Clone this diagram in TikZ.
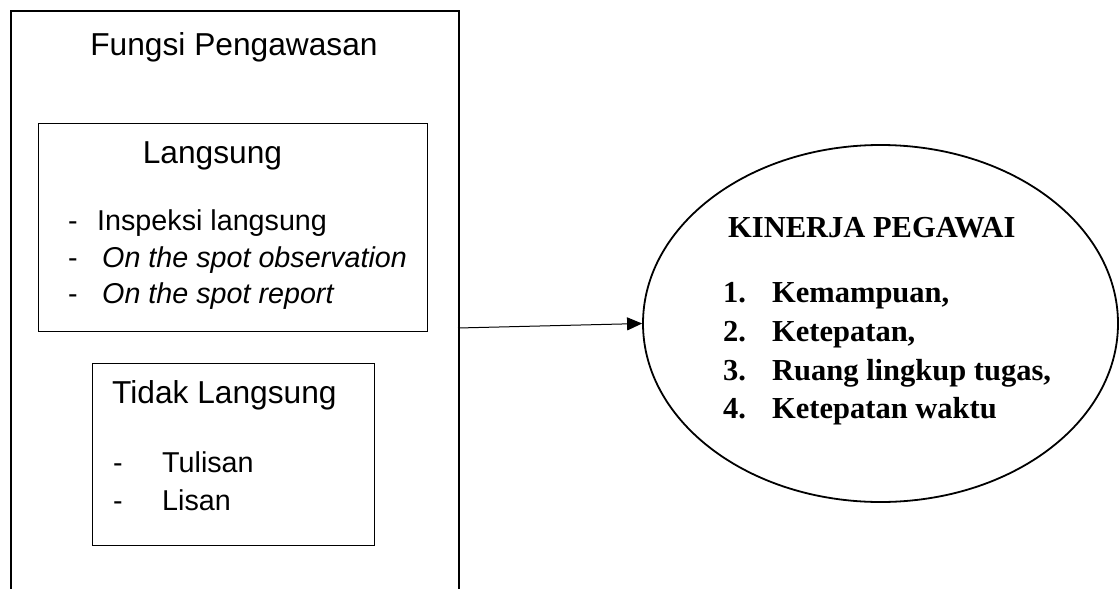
\documentclass[tikz,border=0pt]{standalone}
\usepackage{fontspec}
\setmainfont{Liberation Serif}
\newfontfamily\arial{Liberation Sans}
\usetikzlibrary{shapes.geometric,arrows.meta}
\tikzset{
  lbl/.style={inner sep=0pt, anchor=base west},
  head/.style={inner sep=0pt, anchor=base, font=\arial\fontsize{31.7}{38}\selectfont},
  item/.style={lbl, font=\arial\fontsize{28.7}{36}\selectfont},
  itemit/.style={lbl, font=\arial\itshape\fontsize{28.7}{36}\selectfont},
  kin/.style={lbl, font=\bfseries\fontsize{30.5}{38}\selectfont},
  box/.style={draw, line width=1pt, anchor=north west, inner sep=0pt},
}
\begin{document}
\begin{tikzpicture}[x=1pt,y=-1pt]
\useasboundingbox (0,0) rectangle (1120,589);
\clip (0,0) rectangle (1120,589);
% outer box
\node[draw, line width=2pt, anchor=north west, inner sep=0pt, minimum width=448pt, minimum height=640pt] (outer) at (10,10) {};
\node[head] (tfungsi) at (234,55) {Fungsi Pengawasan};
% Langsung box
\node[box, minimum width=389pt, minimum height=208pt] (lbox) at (38,123) {};
\node[head] (tlang) at (212.5,163) {Langsung};
\node[item] (d1) at (68,230) {-};
\node[item] (i1) at (97,230) {Inspeksi langsung};
\node[item] (d2) at (68,267) {-};
\node[itemit] (i2) at (102,267) {On the spot observation};
\node[item] (d3) at (68,303) {-};
\node[itemit] (i3) at (102,303) {On the spot report};
% Tidak Langsung box
\node[box, minimum width=282pt, minimum height=182pt] (tbox) at (92,363) {};
\node[lbl, font=\arial\fontsize{31.7}{38}\selectfont] (ttidak) at (112,403) {Tidak Langsung};
\node[item] (d4) at (113,472) {-};
\node[item] (i4) at (162,472) {Tulisan};
\node[item] (d5) at (113,510) {-};
\node[item] (i5) at (162,510) {Lisan};
% ellipse
\node[draw, ellipse, line width=1.8pt, inner sep=0pt, minimum width=475pt, minimum height=357pt] (kinerja) at (880.5,323.5) {};
\node[kin] (ktitle) at (728,237) {KINERJA PEGAWAI};
\node[kin] (n1) at (723,302) {1.};
\node[kin] (k1) at (772,302) {Kemampuan,};
\node[kin] (n2) at (723,341) {2.};
\node[kin] (k2) at (772,341) {Ketepatan,};
\node[kin] (n3) at (723,380) {3.};
\node[kin] (k3) at (772,380) {Ruang lingkup tugas,};
\node[kin] (n4) at (723,418) {4.};
\node[kin] (k4) at (772,418) {Ketepatan waktu};
% arrow
\coordinate (astart) at (458,328);
\draw[line width=1pt, -{Triangle[length=15pt,width=13pt]}] (astart) -- (kinerja.west);
\end{tikzpicture}
\end{document}
